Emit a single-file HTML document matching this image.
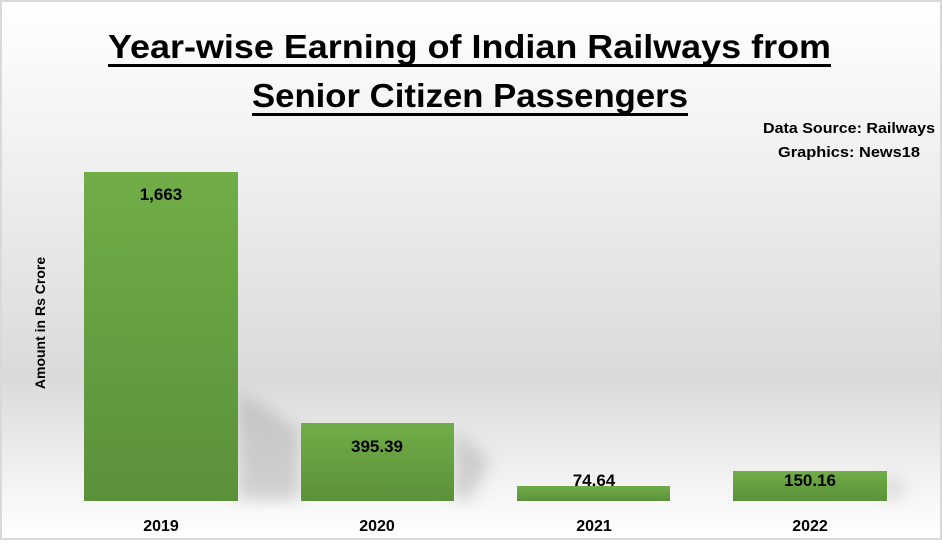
<!DOCTYPE html>
<html><head><style>
body{margin:0;}
</style></head><body>
<svg width="942" height="540" xmlns="http://www.w3.org/2000/svg" font-family="Liberation Sans, sans-serif">
<defs>
<linearGradient id="bg" x1="0" y1="0" x2="0" y2="1">
<stop offset="0" stop-color="#ffffff"/>
<stop offset="0.3" stop-color="#f0f0f0"/>
<stop offset="0.7" stop-color="#dadada"/>
<stop offset="0.92" stop-color="#f6f6f6"/>
<stop offset="1" stop-color="#ffffff"/>
</linearGradient>
<linearGradient id="bar" x1="0" y1="0" x2="0" y2="1">
<stop offset="0" stop-color="#70ad47"/>
<stop offset="1" stop-color="#5b913a"/>
</linearGradient>
<filter id="bl"><feGaussianBlur stdDeviation="8"/></filter>
</defs>
<rect x="0" y="0" width="942" height="540" fill="#d9d9d9"/>
<rect x="2" y="2" width="938" height="536" fill="url(#bg)"/>
<g fill="#9a9a9a" opacity="0.4" filter="url(#bl)">
<polygon points="238,390 300,430 300,500 238,500"/>
<polygon points="454,430 490,460 470,500 454,500"/>
<polygon points="887,475 905,488 895,500 887,500"/>
</g>
<rect x="84" y="172" width="154" height="329" fill="url(#bar)"/>
<rect x="301" y="423" width="153" height="78" fill="url(#bar)"/>
<rect x="517" y="486" width="153" height="15" fill="url(#bar)"/>
<rect x="733" y="471" width="154" height="30" fill="url(#bar)"/>
<g font-weight="bold" font-size="17" text-anchor="middle" fill="#000">
<text x="161" y="200">1,663</text>
<text x="377" y="452">395.39</text>
<text x="594" y="486">74.64</text>
<text x="810" y="486">150.16</text>
<text x="161" y="531" font-size="16">2019</text>
<text x="377" y="531" font-size="16">2020</text>
<text x="594" y="531" font-size="16">2021</text>
<text x="810" y="531" font-size="16">2022</text>
</g>
<text transform="translate(45,323) rotate(-90)" font-size="14" font-weight="bold" text-anchor="middle">Amount in Rs Crore</text>
<g font-weight="bold" font-size="33" fill="#000">
<text x="108" y="58" textLength="723" lengthAdjust="spacingAndGlyphs">Year-wise Earning of Indian Railways from</text>
<text x="252" y="107" textLength="436" lengthAdjust="spacingAndGlyphs">Senior Citizen Passengers</text>
</g>
<rect x="108" y="64" width="723" height="3" fill="#000"/>
<rect x="252" y="113" width="436" height="3" fill="#000"/>
<g font-weight="bold" font-size="15" text-anchor="middle">
<text x="849" y="133" textLength="172" lengthAdjust="spacingAndGlyphs">Data Source: Railways</text>
<text x="849" y="157" textLength="142" lengthAdjust="spacingAndGlyphs">Graphics: News18</text>
</g>
</svg>
</body></html>
